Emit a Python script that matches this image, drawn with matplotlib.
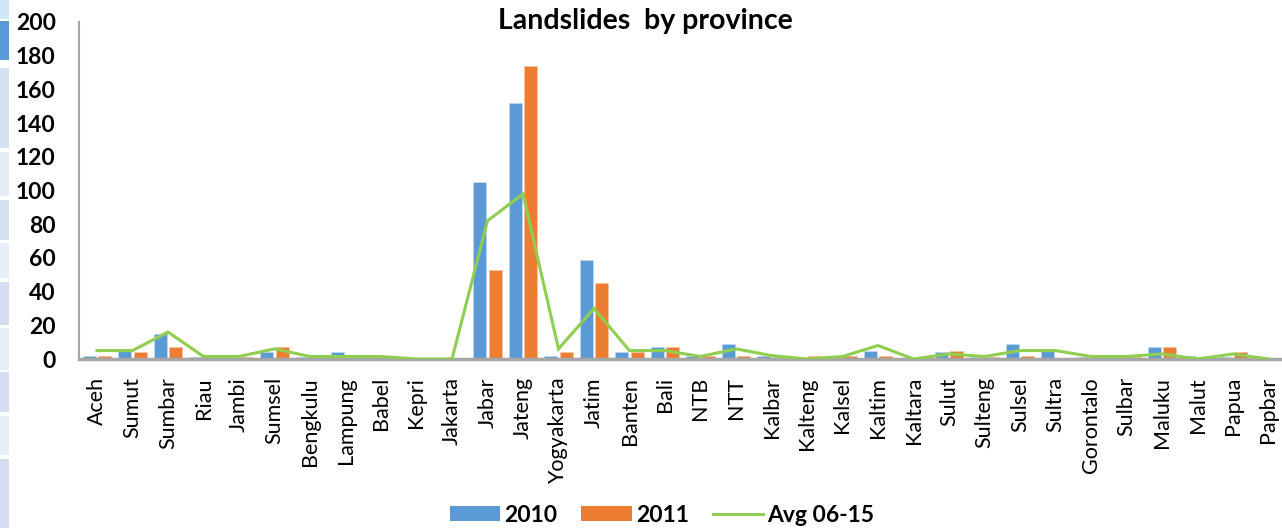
import matplotlib
matplotlib.use("Agg")
import matplotlib.pyplot as plt
import numpy as np
from matplotlib.patches import Rectangle
from matplotlib.lines import Line2D

provinces = ["Aceh", "Sumut", "Sumbar", "Riau", "Jambi", "Sumsel", "Bengkulu", "Lampung",
             "Babel", "Kepri", "Jakarta", "Jabar", "Jateng", "Yogyakarta", "Jatim", "Banten",
             "Bali", "NTB", "NTT", "Kalbar", "Kalteng", "Kalsel", "Kaltim", "Kaltara",
             "Sulut", "Sulteng", "Sulsel", "Sultra", "Gorontalo", "Sulbar", "Maluku", "Malut",
             "Papua", "Papbar"]
y2010 = [2, 5, 15, 1, 1, 4, 1, 4, 1, 0, 0, 105, 152, 2, 59, 4, 7, 2, 9, 2, 0, 1, 5, 0,
         4, 1, 9, 5, 1, 1, 7, 2, 1, 0]
y2011 = [2, 4, 7, 0, 1, 7, 1, 1, 1, 0, 0, 53, 174, 4, 45, 4, 7, 2, 2, 1, 2, 2, 2, 0,
         5, 1, 2, 0, 1, 1, 7, 1, 4, 0]
avg0615 = [5, 5, 16, 1.5, 1.5, 6, 1.5, 1.5, 1.5, 0, 0, 82, 98, 6, 30, 5, 5, 1.5, 6, 2,
           0, 1.5, 8, 0, 3, 1.5, 5, 5, 1.5, 1.5, 3, 0, 3, 0]
yticks = list(range(0, 201, 20))

BLUE = "#5B9BD5"
ORANGE = "#ED7D31"
GREEN = "#8FCE4E"
FONT = ["Lato", "DejaVu Sans"]

W, H = 1282, 528
fig = plt.figure(figsize=(W / 100, H / 100), dpi=100)
fig.patch.set_facecolor("white")

# left decorative strip (slide background artifact)
strip = [(0, 19, "#cfe8f7"), (21, 60, "#5b9bd5"), (68, 148, "#d6e0f0"), (152, 196, "#e6ecf6"),
         (200, 240, "#d6e0f0"), (243, 278, "#e8eef7"), (282, 325, "#d3ddef"),
         (328, 370, "#e8eef7"), (372, 412, "#d3ddef"), (416, 455, "#e8eef7"),
         (459, 528, "#d3ddef")]
for y0, y1, c in strip:
    fig.patches.append(Rectangle((0, 1 - y1 / H), 9 / W, (y1 - y0) / H,
                                 transform=fig.transFigure, facecolor=c, edgecolor="none"))

x0px, x1px = 79.25, 79.25 + 34 * 35.5
ytop, ybot = 22, 359
ax = fig.add_axes([x0px / W, 1 - ybot / H, (x1px - x0px) / W, (ybot - ytop) / H])

x = np.arange(len(provinces))
bw = 0.37
off = 0.22
ax.bar(x - off, y2010, bw, color=BLUE, edgecolor="#bcd6ef", linewidth=0.6, zorder=2)
ax.bar(x + off, y2011, bw, color=ORANGE, edgecolor="#f6c2a0", linewidth=0.6, zorder=2)
ax.plot(x, avg0615, color=GREEN, linewidth=2.2, zorder=3, solid_joinstyle="miter")

ax.set_xlim(-0.5, len(provinces) - 0.5)
ax.set_ylim(0, 200)
ax.set_yticks(yticks)
ax.set_yticklabels([str(t) for t in yticks], fontfamily=FONT, fontweight="bold", fontsize=16.5)
ax.set_xticks(x)
ax.set_xticklabels(provinces, rotation=90, fontfamily=FONT, fontsize=15.5, va="top")
ax.tick_params(axis="both", length=0)
ax.tick_params(axis="x", pad=13)
ax.tick_params(axis="y", pad=17)

for s in ["top", "right"]:
    ax.spines[s].set_visible(False)
ax.spines["left"].set_color("#a6a6a6")
ax.spines["left"].set_linewidth(1.5)
ax.spines["bottom"].set_color("#a6a6a6")
ax.spines["bottom"].set_linewidth(2.5)

fig.text(645 / W, 1 - 21 / H, "Landslides  by province", ha="center", va="center",
         fontfamily=FONT, fontweight="bold", fontsize=20.5)

handles = [Rectangle((0, 0), 1, 1, facecolor=BLUE, edgecolor="none"),
           Rectangle((0, 0), 1, 1, facecolor=ORANGE, edgecolor="none"),
           Line2D([0], [0], color=GREEN, linewidth=2.2)]
leg = fig.legend(handles, ["2010", "2011", "Avg 06-15"], loc="center",
                 bbox_to_anchor=(662 / W, 1 - 515 / H), ncol=3, frameon=False,
                 prop={"family": FONT, "weight": "bold", "size": 16.5},
                 handlelength=2.2, handleheight=0.62, handletextpad=0.18, columnspacing=1.05)

fig.savefig("out.png", dpi=100, facecolor="white")
